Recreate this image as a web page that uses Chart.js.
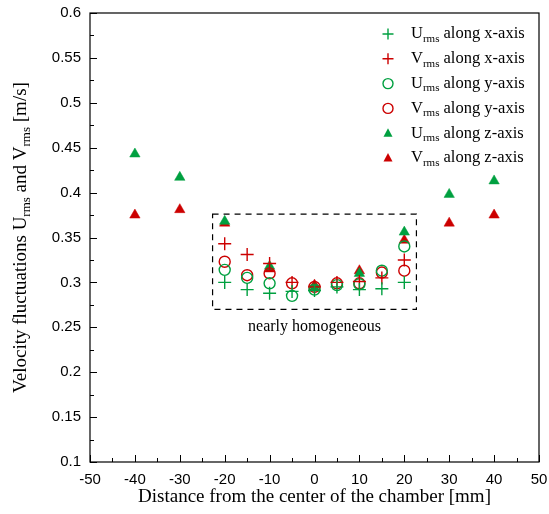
<!DOCTYPE html>
<html>
<head>
<meta charset="utf-8">
<script src="https://cdn.jsdelivr.net/npm/chart.js@4.4.0/dist/chart.umd.min.js"></script>
<style>
  body { margin: 0; background: #fff; }
</style>
</head>
<body>
<canvas id="c" width="549" height="514"></canvas>
<script>
// positions (mm)
const xyPositions = [-20, -15, -10, -5, 0, 5, 10, 15, 20];
const zPositions = [-40, -30, -20, -10, 0, 10, 20, 30, 40];

// values (m/s)
const uAlongX = [0.300, 0.292, 0.288, 0.290, 0.291, 0.295, 0.292, 0.293, 0.300];
const vAlongX = [0.343, 0.331, 0.321, 0.300, 0.295, 0.300, 0.301, 0.305, 0.325];
const uAlongY = [0.314, 0.305, 0.299, 0.285, 0.292, 0.297, 0.298, 0.313, 0.340];
const vAlongY = [0.323, 0.308, 0.310, 0.299, 0.295, 0.299, 0.299, 0.311, 0.313];
const uAlongZ = [0.443, 0.417, 0.368, 0.318, 0.294, 0.310, 0.356, 0.398, 0.413];
const vAlongZ = [0.375, 0.381, 0.366, 0.315, 0.297, 0.313, 0.347, 0.366, 0.375];

// dashed box around the central region
const boxX = [-22.7, 22.7];
const boxY = [0.270, 0.376];

const GREEN = '#00a040';
const RED = '#cc0000';

const legendItems = [
  { letter: 'U', rest: ' along x-axis', color: GREEN, style: 'cross' },
  { letter: 'V', rest: ' along x-axis', color: RED, style: 'cross' },
  { letter: 'U', rest: ' along y-axis', color: GREEN, style: 'circle' },
  { letter: 'V', rest: ' along y-axis', color: RED, style: 'circle' },
  { letter: 'U', rest: ' along z-axis', color: GREEN, style: 'triangle' },
  { letter: 'V', rest: ' along z-axis', color: RED, style: 'triangle' }
];

function toPoints(xs, ys) {
  return xs.map((x, i) => ({ x: x, y: ys[i] }));
}

function series(label, xs, ys, color, style) {
  const filled = style === 'triangle';
  return {
    label: label,
    data: toPoints(xs, ys),
    showLine: false,
    pointStyle: style,
    pointRadius: style === 'cross' ? 6.5 : (style === 'circle' ? 5.5 : 6),
    pointBorderWidth: filled ? 0.5 : 1.4,
    pointBorderColor: color,
    pointBackgroundColor: filled ? color : 'rgba(0,0,0,0)',
    pointHoverRadius: 0
  };
}

// sub-scripted text helper: pieces of [text, isSub]
function drawRich(ctx, pieces, x, y, size) {
  let cx = x;
  pieces.forEach(p => {
    ctx.font = (p[1] ? Math.round(size * 0.68) : size) + 'px "Liberation Serif", "Times New Roman", serif';
    ctx.fillText(p[0], cx, p[1] ? y + size * 0.3 : y);
    cx += ctx.measureText(p[0]).width;
  });
  return cx - x;
}

function measureRich(ctx, pieces, size) {
  let w = 0;
  pieces.forEach(p => {
    ctx.font = (p[1] ? Math.round(size * 0.68) : size) + 'px "Liberation Serif", "Times New Roman", serif';
    w += ctx.measureText(p[0]).width;
  });
  return w;
}

function drawMarker(ctx, style, color, x, y) {
  ctx.save();
  ctx.strokeStyle = color;
  ctx.fillStyle = color;
  ctx.lineWidth = 1.4;
  ctx.beginPath();
  if (style === 'cross') {
    ctx.moveTo(x - 5.5, y); ctx.lineTo(x + 5.5, y);
    ctx.moveTo(x, y - 5.5); ctx.lineTo(x, y + 5.5);
    ctx.stroke();
  } else if (style === 'circle') {
    ctx.arc(x, y, 5, 0, Math.PI * 2);
    ctx.stroke();
  } else {
    ctx.moveTo(x, y - 5);
    ctx.lineTo(x + 4.5, y + 3.5);
    ctx.lineTo(x - 4.5, y + 3.5);
    ctx.closePath();
    ctx.fill();
  }
  ctx.restore();
}

const decorations = {
  id: 'decorations',
  afterDatasetsDraw(chart) {
    const ctx = chart.ctx;
    const a = chart.chartArea;
    const xs = chart.scales.x;
    const ys = chart.scales.y;
    ctx.save();

    // frame
    ctx.strokeStyle = '#000';
    ctx.lineWidth = 1.2;
    ctx.strokeRect(a.left, a.top, a.right - a.left, a.bottom - a.top);

    // inner ticks
    ctx.lineWidth = 1;
    ctx.beginPath();
    for (let v = -50; v <= 50; v += 5) {
      const px = Math.round(xs.getPixelForValue(v)) + 0.5;
      const len = v % 10 === 0 ? 7 : 4;
      ctx.moveTo(px, a.bottom);
      ctx.lineTo(px, a.bottom - len);
    }
    for (let i = 0; i <= 20; i++) {
      const v = 0.1 + i * 0.025;
      const py = Math.round(ys.getPixelForValue(v)) + 0.5;
      const len = i % 2 === 0 ? 7 : 4;
      ctx.moveTo(a.left, py);
      ctx.lineTo(a.left + len, py);
    }
    ctx.stroke();

    // dashed box
    ctx.setLineDash([6, 5]);
    ctx.lineWidth = 1.2;
    const bx1 = xs.getPixelForValue(boxX[0]);
    const bx2 = xs.getPixelForValue(boxX[1]);
    const by1 = ys.getPixelForValue(boxY[1]);
    const by2 = ys.getPixelForValue(boxY[0]);
    ctx.strokeRect(bx1, by1, bx2 - bx1, by2 - by1);
    ctx.setLineDash([]);

    // annotation
    ctx.fillStyle = '#000';
    ctx.font = '16px "Liberation Serif", "Times New Roman", serif';
    ctx.textAlign = 'center';
    ctx.textBaseline = 'middle';
    ctx.fillText('nearly homogeneous', xs.getPixelForValue(0), by2 + 17);

    // legend
    ctx.textAlign = 'left';
    ctx.textBaseline = 'middle';
    legendItems.forEach((it, i) => {
      const y = 34 + i * 24.8;
      drawMarker(ctx, it.style, it.color, 388, y);
      ctx.fillStyle = '#000';
      drawRich(ctx, [[it.letter, false], ['rms', true], [it.rest, false]], 411, y, 16.5);
    });

    // x title
    ctx.font = '19px "Liberation Serif", "Times New Roman", serif';
    ctx.textAlign = 'center';
    ctx.fillText('Distance from the center of the chamber [mm]', (a.left + a.right) / 2, 497);

    // y title (rotated, with subscripts)
    const pieces = [['Velocity fluctuations U', false], ['rms', true], [' and V', false], ['rms', true], [' [m/s]', false]];
    ctx.translate(21, (a.top + a.bottom) / 2);
    ctx.rotate(-Math.PI / 2);
    ctx.textAlign = 'left';
    const w = measureRich(ctx, pieces, 19);
    drawRich(ctx, pieces, -w / 2, 0, 19);
    ctx.restore();
  }
};

new Chart(document.getElementById('c'), {
  type: 'scatter',
  data: {
    datasets: [
      series('Urms along x-axis', xyPositions, uAlongX, GREEN, 'cross'),
      series('Vrms along x-axis', xyPositions, vAlongX, RED, 'cross'),
      series('Urms along y-axis', xyPositions, uAlongY, GREEN, 'circle'),
      series('Vrms along y-axis', xyPositions, vAlongY, RED, 'circle'),
      series('Urms along z-axis', zPositions, uAlongZ, GREEN, 'triangle'),
      series('Vrms along z-axis', zPositions, vAlongZ, RED, 'triangle')
    ]
  },
  options: {
    responsive: false,
    animation: false,
    layout: { padding: { top: 13, right: 10, left: 0, bottom: 0 } },
    plugins: { legend: { display: false }, tooltip: { enabled: false } },
    scales: {
      x: {
        type: 'linear', min: -50, max: 50,
        grid: { display: false, drawTicks: false },
        border: { display: false },
        ticks: {
          stepSize: 10, padding: 9, color: '#000',
          font: { family: '"Liberation Sans", Arial, sans-serif', size: 15 }
        },
        afterFit(scale) {
          scale.height = 52;
          scale.paddingLeft = 0;
          scale.paddingRight = 0;
        }
      },
      y: {
        type: 'linear', min: 0.1, max: 0.6,
        grid: { display: false, drawTicks: false },
        border: { display: false },
        ticks: {
          stepSize: 0.05, padding: 9, color: '#000',
          font: { family: '"Liberation Sans", Arial, sans-serif', size: 15 },
          callback: v => String(+v.toFixed(3))
        },
        afterFit(scale) {
          scale.width = 90;
          scale.paddingTop = 0;
          scale.paddingBottom = 0;
        }
      }
    }
  },
  plugins: [decorations]
});
</script>
</body>
</html>
